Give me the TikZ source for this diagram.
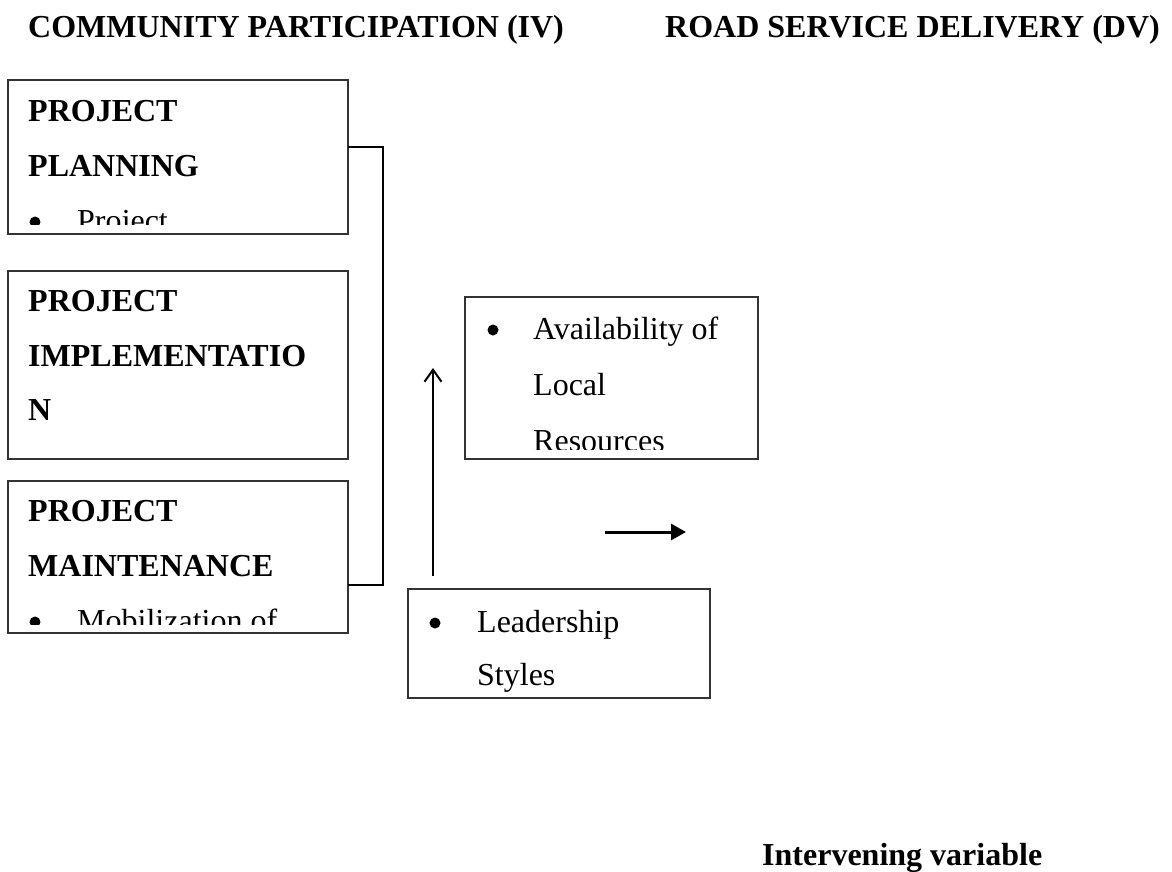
\documentclass[tikz,border=0pt]{standalone}
\usepackage{fontspec}
\setmainfont{Liberation Serif}
\usetikzlibrary{arrows.meta}

\begin{document}
\begin{tikzpicture}[x=1pt,y=-1pt,
  frame/.style={draw=black!80, line width=1.3pt, inner sep=0pt, outer sep=0pt,
    anchor=north west, fill=none},
  ttl/.style={font=\fontsize{32}{38}\selectfont\bfseries, anchor=base west, inner sep=0pt},
  head/.style={font=\fontsize{32}{38}\selectfont\bfseries, anchor=base west, inner sep=0pt},
  body/.style={font=\fontsize{32}{38}\selectfont, anchor=base west, inner sep=0pt},
  dot/.style={circle, fill=black, draw=none, inner sep=0pt, minimum size=11pt},
  link/.style={line width=2pt, draw=black},
  uparrow/.style={line width=2pt, -{Straight Barb[length=12pt,width=17pt,line width=2pt]}},
  rarrow/.style={line width=3pt, -{Triangle[length=15pt,width=16pt]}}
]
\useasboundingbox (0,0) rectangle (1172,871);

% column titles
\node[ttl] (tiv) at (28,37) {COMMUNITY PARTICIPATION (IV)};
\node[ttl] (tdv) at (665,37) {ROAD SERVICE DELIVERY (DV)};

% independent variable boxes
\node[frame, minimum width=340pt, minimum height=154pt] (plan) at (8,80) {};
\node[frame, minimum width=340pt, minimum height=188pt] (impl) at (8,271) {};
\node[frame, minimum width=340pt, minimum height=152pt] (main) at (8,481) {};

\node[head] (plan1) at (28,121) {PROJECT};
\node[head] (plan2) at (28,176) {PLANNING};
\begin{scope}
  \clip (8,80) rectangle (348,224);
  \node[dot] (plan3) at (35,222) {};
  \node[body] (plan4) at (77,231) {Project};
\end{scope}

\node[head] (impl1) at (28,311) {PROJECT};
\node[head] (impl2) at (28,366) {IMPLEMENTATIO};
\node[head] (impl3) at (28,420) {N};

\node[head] (main1) at (28,521) {PROJECT};
\node[head] (main2) at (28,576) {MAINTENANCE};
\begin{scope}
  \clip (8,481) rectangle (348,624);
  \node[dot] (main3) at (35,622) {};
  \node[body] (main4) at (77,631) {Mobilization of};
\end{scope}

% bracket joining the three boxes
\draw[link] ([yshift=10pt]plan.east) -- ++(35,0) |- ([yshift=-28pt]main.east);

% intervening variable boxes
\node[frame, minimum width=293pt, minimum height=162pt] (res) at (465,297) {};
\begin{scope}
  \clip (465,297) rectangle (758,449);
  \node[dot] (res0) at (493,330) {};
  \node[body] (res1) at (533,339) {Availability of};
  \node[body] (res2) at (533,395) {Local};
  \node[body] (res3) at (533,451) {Resources};
\end{scope}

\node[frame, minimum width=302pt, minimum height=109pt] (lead) at (408,589) {};
\begin{scope}
  \clip (408,589) rectangle (710,692);
  \node[dot] (lead0) at (435,623) {};
  \node[body] (lead1) at (477,632) {Leadership};
  \node[body] (lead2) at (477,685) {Styles};
\end{scope}

% arrows
\coordinate (upfoot) at ([xshift=25pt,yshift=13pt]lead.north west);
\coordinate (uphead) at (433,368);
\draw[uparrow] (upfoot) -- (uphead);

\coordinate (rfoot) at (605,532);
\coordinate (rhead) at (686,532);
\draw[rarrow] (rfoot) -- (rhead);

\node[head] (ivar) at (762,865) {Intervening variable};
\end{tikzpicture}
\end{document}
